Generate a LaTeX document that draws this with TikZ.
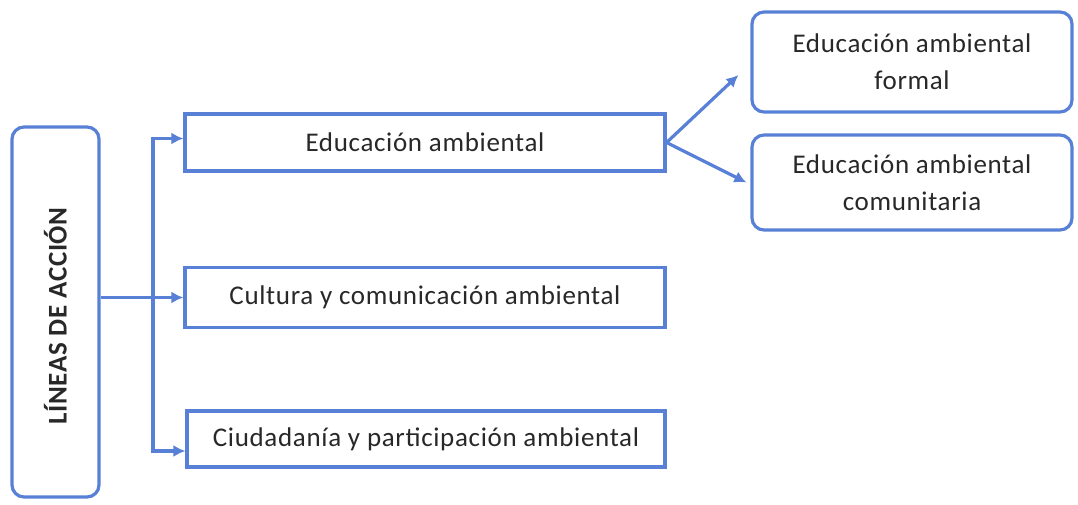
\documentclass[tikz,border=0pt]{standalone}
\usepackage{fontspec}
\setmainfont{Carlito}
\usetikzlibrary{arrows.meta,calc}
\definecolor{bl}{RGB}{88,128,214}
\definecolor{tx}{RGB}{40,40,40}
\newfontfamily\boxfont[LetterSpace=2.5]{Carlito}
\tikzset{
  sq/.style={draw=bl,line width=3.2pt,fill=white,text=tx,font=\boxfont\fontsize{27}{31}\selectfont,inner sep=0pt},
  rd/.style={sq,rounded corners=12pt,align=center},
  arr/.style={draw=bl,line width=3.2pt,-{Latex[length=12pt,width=12pt]}},
}
\begin{document}
\begin{tikzpicture}[x=1pt,y=-1pt]
\useasboundingbox[fill=white] (0,0) rectangle (1078,504);
\node[rd,minimum width=87pt,minimum height=370pt] (lin) at (55.5,312) {};
\node[rotate=90,text=tx,font=\boxfont\fontsize{27}{31}\selectfont\bfseries] (lint) at (55.5,316) {LÍNEAS DE ACCIÓN};
\node[sq,minimum width=480pt,minimum height=57pt] (edu) at (425,142.5) {Educación ambiental};
\node[sq,minimum width=480pt,minimum height=60pt] (cult) at (425,297.5) {Cultura y comunicación ambiental};
\node[sq,minimum width=478pt,minimum height=56pt] (ciud) at (426,439) {Ciudadanía y participación ambiental};
\node[rd,minimum width=320pt,minimum height=100pt] (form) at (912,62) {Educación ambiental\\[6pt]formal};
\node[rd,minimum width=320pt,minimum height=95pt] (comu) at (912,182.5) {Educación ambiental\\[6pt]comunitaria};
\coordinate (j) at (153,297.5);
\draw[arr] (lin.east |- j) -- (cult.west);
\draw[arr] (j) |- ([yshift=4pt]edu.west);
\draw[arr] (j) |- ([yshift=-12pt]ciud.west);
\draw[arr] (edu.east) -- ([shift={(-12pt,-13pt)}]form.west);
\draw[arr] (edu.east) -- ([xshift=-4pt]comu.west);
\end{tikzpicture}
\end{document}
